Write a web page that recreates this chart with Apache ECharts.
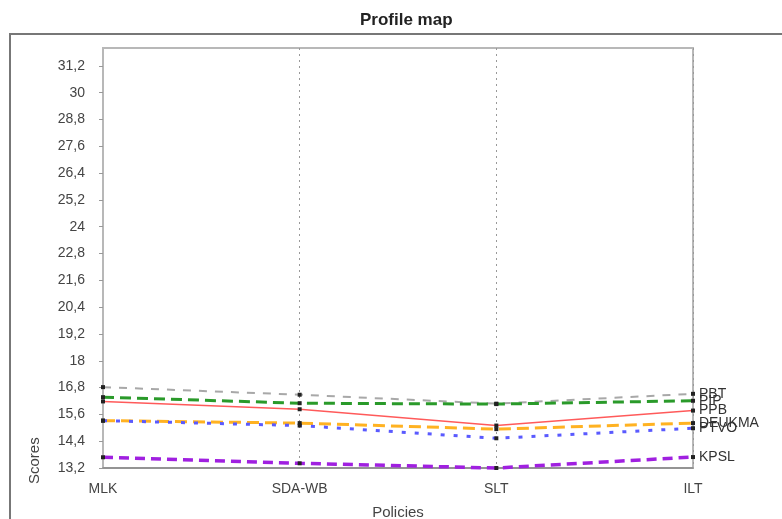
<!DOCTYPE html>
<html>
<head>
<meta charset="utf-8">
<script src="https://cdn.jsdelivr.net/npm/echarts@6/dist/echarts.min.js"></script>
<style>
html,body{margin:0;padding:0;background:#fff;}
#chart{width:782px;height:519px;}
</style>
</head>
<body>
<div id="chart"></div>
<script>
const categories = ['MLK', 'SDA-WB', 'SLT', 'ILT'];
const seriesNames = ['PBT', 'PIP', 'PPB', 'DEUKMA', 'PTVO', 'KPSL'];
const PBT = [16.82, 16.48, 16.08, 16.52];
const PIP = [16.37, 16.10, 16.06, 16.21];
const PPB = [16.18, 15.83, 15.10, 15.77];
const DEUKMA = [15.32, 15.21, 14.94, 15.21];
const PTVO = [15.32, 15.10, 14.53, 14.98];
const KPSL = [13.68, 13.41, 13.20, 13.69];
const yMin = 13.2, yMax = 32, yStep = 1.2;

const styles = {
  PBT:    {color: '#a8a8a8', width: 2,   type: [8, 8]},
  PIP:    {color: '#2a9a2a', width: 3,   type: [11, 6]},
  PPB:    {color: '#ff5a5a', width: 1.5, type: 'solid'},
  DEUKMA: {color: '#ffb222', width: 3,   type: [12, 6]},
  PTVO:   {color: '#5a5aff', width: 3,   type: [4, 9]},
  KPSL:   {color: '#a020e0', width: 3.5, type: [10, 6]}
};
const dataMap = {PBT, PIP, PPB, DEUKMA, PTVO, KPSL};
const font = 'Liberation Sans, Arial, sans-serif';

const chart = echarts.init(document.getElementById('chart'));
chart.setOption({
  animation: false,
  backgroundColor: '#fff',
  title: {
    text: 'Profile map', left: 355, top: 7,
    textStyle: {fontFamily: font, fontSize: 17, fontWeight: 'bold', color: '#222'}
  },
  graphic: [
    {type: 'rect', shape: {x: 10, y: 34, width: 800, height: 520},
     style: {fill: 'none', stroke: '#777', lineWidth: 2}, z: -1},
    {type: 'text', x: 27, y: 484, rotation: Math.PI / 2,
     style: {text: 'Scores', font: '15px ' + font, fill: '#444'}}
  ],
  grid: {left: 103, right: 89, top: 48, bottom: 51, show: true,
         outerBoundsMode: 'none', containLabel: false,
         borderColor: '#b8b8b8', borderWidth: 2, backgroundColor: '#fff'},
  xAxis: {
    type: 'category', data: categories, boundaryGap: false,
    name: 'Policies', nameLocation: 'middle', nameGap: 37,
    nameTextStyle: {fontFamily: font, fontSize: 15, color: '#444'},
    axisLine: {lineStyle: {color: '#888', width: 1.5}},
    axisTick: {show: false},
    axisLabel: {fontFamily: font, fontSize: 14, color: '#444', margin: 14},
    splitLine: {show: true, lineStyle: {color: '#999', type: [2, 4], width: 1}}
  },
  yAxis: {
    type: 'value', min: yMin, max: yMax, interval: yStep,
    axisLine: {show: true, lineStyle: {color: '#b8b8b8', width: 2}},
    axisTick: {show: true, length: 4, lineStyle: {color: '#999'}},
    splitLine: {show: false},
    axisLabel: {
      fontFamily: font, fontSize: 14, color: '#444', margin: 18, showMaxLabel: false,
      formatter: v => String(Math.round(v * 10) / 10).replace('.', ',')
    }
  },
  series: seriesNames.map(n => ({
    name: n, type: 'line', data: dataMap[n],
    symbol: 'rect', symbolSize: 4, showSymbol: true,
    itemStyle: {color: '#222'},
    lineStyle: {color: styles[n].color, width: styles[n].width, type: styles[n].type},
    endLabel: {show: true, formatter: '{a}', distance: 6,
               fontFamily: font, fontSize: 14, color: '#333'},
    clip: false
  }))
});
</script>
</body>
</html>
